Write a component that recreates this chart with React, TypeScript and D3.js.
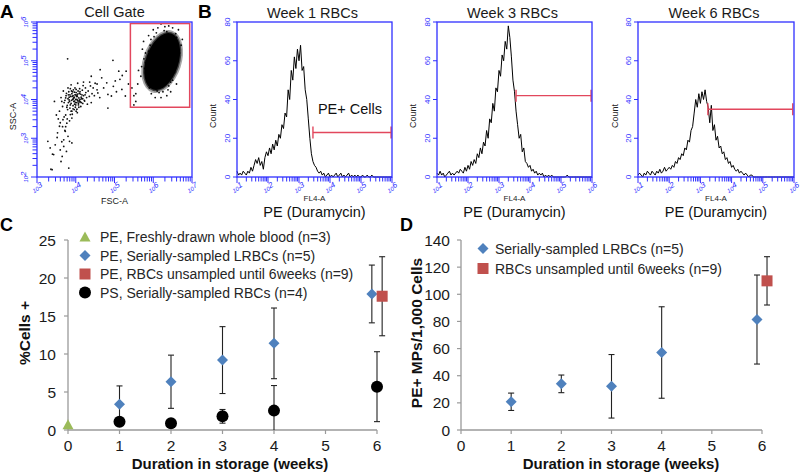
import React from "react";
import * as d3 from "d3";

const FONT = "'Liberation Sans', Arial, Helvetica, sans-serif";
const AX_BLUE = "#2f2fff";
const GATE_RED = "#e2475d";
const SERIAL_BLUE = "#4f81bd";
const UNSAMPLED_RED = "#c0504d";
const FRESH_GREEN = "#9bbb59";
const AXIS_GRAY = "#9a9a9a";

// ---------- Panel A: FSC-A vs SSC-A (log10 units) ----------
const scatterLowCluster: [number, number][] = [
  [3.62,4.05],[3.70,3.92],[3.75,4.10],[3.78,3.85],[3.80,4.02],[3.82,4.20],[3.84,3.95],[3.85,3.78],[3.87,4.08],[3.88,3.90],
  [3.90,4.15],[3.90,3.70],[3.92,4.00],[3.93,3.84],[3.94,4.25],[3.95,3.95],[3.96,4.06],[3.97,3.88],[3.98,4.12],[3.99,3.80],
  [4.00,4.00],[4.01,4.18],[4.02,3.92],[4.03,3.75],[4.04,4.08],[4.05,3.98],[4.06,4.22],[4.07,3.86],[4.08,4.04],[4.10,3.94],
  [4.12,4.14],[4.13,3.82],[4.15,4.02],[4.17,4.24],[4.18,3.90],[4.20,4.10],[4.22,3.98],[4.25,4.30],[4.28,4.05],[4.30,3.88],
  [3.72,3.98],[3.76,4.16],[3.79,3.74],[3.83,4.06],[3.86,4.28],[3.89,3.98],[3.91,3.62],[3.93,4.10],[3.96,3.74],[3.98,4.30],
  [4.00,3.86],[4.02,4.08],[4.04,3.66],[4.06,3.94],[4.09,4.16],[4.11,4.00],[4.14,3.92],[4.16,4.12],[4.19,4.36],[4.23,3.96],
  [3.66,3.82],[3.68,4.22],[3.74,3.60],[3.81,3.92],[3.85,4.12],[3.88,3.70],[3.92,4.20],[3.95,4.04],[3.97,3.96],[4.01,4.26],
  [4.03,4.00],[4.05,4.14],[4.08,3.80],[4.10,4.28],[4.12,3.94],[4.26,4.18],[4.32,4.22],[4.35,4.08],[4.38,4.35],[4.42,4.15],
  [3.58,3.70],[3.64,3.95],[3.55,3.50],[3.70,3.55],[3.60,3.40],[3.78,3.50],[3.66,3.30],[3.84,3.45],[3.72,3.20],[3.90,3.52],
  [4.45,4.30],[4.50,4.42],[4.48,4.10],[4.55,4.25],[4.40,3.92],[4.36,4.45],[4.20,4.45],[4.05,4.42],[3.88,4.38],[3.80,4.30],
  [3.94,4.02],[3.99,3.92],[4.03,4.11],[3.86,3.86],[4.09,3.98],[3.91,4.08],[4.14,4.06],[3.97,4.19],[4.07,3.90],[3.83,3.99],
  [3.74,4.04],[3.81,4.12],[3.89,4.22],[4.00,4.12],[4.11,4.20],[4.18,4.02],[3.93,3.76],[4.01,3.70],[3.77,3.80],[4.24,4.12],
];
const scatterTail: [number, number][] = [
  [3.28,2.92],[3.43,2.58],[3.47,2.83],[3.62,2.40],[3.69,2.79],[3.76,2.66],[3.82,2.23],[3.39,2.19],[3.53,3.14],[3.69,2.96],
  [3.84,2.92],[3.90,2.88],[3.65,2.53],[3.58,3.31],[3.73,3.18],[3.77,3.39],[3.67,3.48],[3.86,3.61],[3.34,2.75],[3.40,2.59],
  [3.36,2.20],[3.64,2.91],[3.50,3.60],[3.45,3.95],[3.52,3.02],[3.80,3.05],[3.60,2.70],[3.74,3.30],
];
const scatterBridge: [number, number][] = [
  [4.63,4.77],[5.11,4.73],[5.30,4.73],[4.67,4.56],[4.80,4.43],[4.97,4.34],[5.14,4.52],[5.19,4.26],[5.28,4.09],[4.92,4.09],
  [4.83,4.13],[4.57,4.17],[4.83,3.78],[4.96,5.01],[3.79,5.05],[5.45,4.30],[5.50,4.10],[5.55,3.95],[4.40,4.60],[4.72,4.30],
  [5.02,4.48],[5.36,4.40],[4.55,4.40],[5.20,4.62],[4.62,4.05],[5.05,4.20],
];
const scatterGateOutliers: [number, number][] = [
  [5.75,5.50],[5.80,5.20],[5.78,4.80],[5.85,4.50],[5.90,4.30],[5.95,4.15],[6.05,4.05],[5.70,4.85],[5.68,4.60],[5.60,4.40],
  [5.62,4.75],[6.60,5.60],[6.65,5.80],[6.50,5.85],[6.40,5.90],[6.72,5.40],[6.68,5.20],[6.55,4.70],[6.60,4.40],[6.45,4.20],
  [6.35,4.10],[6.20,4.05],[5.88,5.65],[6.00,5.80],[6.20,5.95],[6.30,5.88],[5.72,5.30],[6.75,5.55],[5.55,4.15],[5.50,3.86],
  [5.82,5.00],[5.86,4.70],[5.92,5.40],[5.96,4.45],[6.02,5.62],[6.10,4.22],[6.28,5.78],[6.42,5.65],[6.52,5.30],[6.58,5.05],
  [6.50,4.50],[6.40,4.35],[6.25,4.20],[5.84,4.90],[6.62,5.45],[6.12,5.85],[5.92,4.60],[6.55,5.50],
  [5.80,4.95],[5.88,5.25],[5.90,4.85],[5.94,5.55],[6.00,4.30],[6.08,5.72],[6.15,4.18],[6.35,5.75],[6.45,4.45],[6.50,5.05],
  [6.55,5.25],[6.48,4.80],[5.98,4.55],[6.58,5.70],[5.76,5.05],[6.38,4.25],
];
// dense gate population: centre x, centre y, radius x, radius y (log10 units), tilt (deg)
const gateClusterEllipse = [6.23, 4.98, 0.42, 0.76, 18];
// cell gate rectangle: x from, x to, y from, y to (log10 units)
const cellGateBounds = [5.41, 6.94, 3.80, 5.96];

// ---------- Panel B: FL4-A histograms (bins in log10 units from 1 in steps of 0.05) ----------
const histTitles = ["Week 1 RBCs", "Week 3 RBCs", "Week 6 RBCs"];
const histBinStart = 1;
const histBinStep = 0.05;
const week1Counts = [
  3,1,2,1,3,2,1,3,2,5, 3,6,9,7,10,6,8,4,10,13,
  11,15,12,17,14,19,16,22,20,27, 25,33,31,45,40,55,50,62,56,66,
  60,68,55,57,45,40,30,20,12,8, 6,5,3,2,3,1,2,0,1,2,
  0,1,0,1,2,0,1,2,0,1, 0,1,2,0,1,0,1,0,1,0,
  0,1,0,0,1,0,0,1,0,0, 0,0,0,0,0,0,0,0,0,0, 0,
];
const week3Counts = [
  2,1,3,1,2,0,1,2,3,1, 2,1,2,3,2,4,3,2,5,3,
  6,4,8,6,9,7,12,10,15,12, 18,16,24,20,30,28,38,34,46,44,
  55,52,63,60,70,66,78,72,62,50, 44,34,27,20,22,13,15,8,7,5,
  6,3,4,2,3,1,2,1,2,0, 1,0,1,0,1,0,0,0,0,0,
  0,0,0,0,1,0,0,0,0,0, 0,0,0,0,0,0,0,0,0,0, 0,
];
const week6Counts = [
  1,2,1,0,2,1,3,2,1,3, 2,1,3,2,4,2,3,5,3,4,
  5,4,6,5,8,7,10,9,12,11, 15,14,19,18,24,26,33,40,36,43,
  38,44,40,45,39,36,28,37,24,27, 19,21,15,16,12,13,9,10,7,8,
  5,6,4,3,4,2,3,2,1,2, 1,0,1,1,0,0,0,0,0,0,
  0,0,0,0,0,0,0,0,0,0, 0,0,0,0,0,0,0,0,0,0, 0,
];
const histCounts = [week1Counts, week3Counts, week6Counts];
const peGateStartLog = [3.45, 3.55, 3.24];
const peGateEndLog = [5.97, 5.97, 5.96];
const peGateLevel = [23, 42, 35];

// ---------- Panel C: %Cells + ----------
const cFreshX = [0];
const cFreshY = [0.7];
const cSerialX = [1, 2, 3, 4, 5.9];
const cSerialY = [3.4, 6.35, 9.2, 11.4, 17.9];
const cSerialErr = [2.4, 3.5, 4.4, 4.65, 3.8];
const cUnsampledX = [6.1];
const cUnsampledY = [17.6];
const cUnsampledErr = [5.2];
const cPSX = [1, 2, 3, 4, 6];
const cPSY = [1.1, 0.9, 1.8, 2.55, 5.7];
const cPSErr = [0.2, 0.2, 0.9, 3.3, 4.6];
const cYTicks = [0, 5, 10, 15, 20, 25];
const cLegend = [
  "PE, Freshly-drawn whole blood (n=3)",
  "PE, Serially-sampled LRBCs (n=5)",
  "PE, RBCs unsampled until 6weeks (n=9)",
  "PS, Serially-sampled RBCs (n=4)",
];

// ---------- Panel D: PE+ MPs/1,000 cells ----------
const dSerialX = [1, 2, 3, 4, 5.9];
const dSerialY = [20.8, 34, 32.2, 57.1, 81.4];
const dSerialErr = [6.4, 6.5, 23.4, 33.7, 32.8];
const dUnsampledX = [6.1];
const dUnsampledY = [109.9];
const dUnsampledErr = [17.8];
const dYTicks = [0, 20, 40, 60, 80, 100, 120, 140];
const dLegend = ["Serially-sampled LRBCs (n=5)", "RBCs unsampled until 6weeks (n=9)"];

const weekTicks = [0, 1, 2, 3, 4, 5, 6];

type Lin = d3.ScaleLinear<number, number>;

function LogLabel({ x, y, exp, vertical }: { x: number; y: number; exp: number; vertical?: boolean }) {
  return (
    <g transform={`translate(${x},${y}) rotate(${vertical ? -90 : -30})`}>
      <text textAnchor="middle" dominantBaseline="middle" fontSize={6} fill={AX_BLUE} fontFamily={FONT} fontStyle="italic">
        10<tspan fontSize={8} dy={-2}>{exp}</tspan>
      </text>
    </g>
  );
}

function LogAxisX({ scale, from, to, y }: { scale: Lin; from: number; to: number; y: number }) {
  const ticks: { v: number; major: boolean }[] = [];
  for (let d = from; d < to; d++) for (let k = 1; k <= 9; k++) ticks.push({ v: d + Math.log10(k), major: k === 1 });
  ticks.push({ v: to, major: true });
  return (
    <g>
      {ticks.map((t, i) => (
        <line key={i} x1={scale(t.v)} x2={scale(t.v)} y1={y} y2={y + (t.major ? 6 : 4.5)} stroke={AX_BLUE} strokeWidth={1} />
      ))}
      {d3.range(from, to + 1).map((d) => (
        <LogLabel key={d} x={scale(d) + 1} y={y + 12} exp={d} />
      ))}
    </g>
  );
}

function LogAxisY({ scale, from, to, x }: { scale: Lin; from: number; to: number; x: number }) {
  const ticks: { v: number; major: boolean }[] = [];
  for (let d = from; d < to; d++) for (let k = 1; k <= 9; k++) ticks.push({ v: d + Math.log10(k), major: k === 1 });
  ticks.push({ v: to, major: true });
  return (
    <g>
      {ticks.map((t, i) => (
        <line key={i} y1={scale(t.v)} y2={scale(t.v)} x1={x} x2={x - (t.major ? 6 : 4.5)} stroke={AX_BLUE} strokeWidth={1} />
      ))}
      {d3.range(from, to + 1).map((d) => (
        <LogLabel key={d} x={x - 11} y={scale(d)} exp={d} vertical />
      ))}
    </g>
  );
}

function PanelA() {
  const x = d3.scaleLinear().domain([3, 7]).range([37, 192]);
  const y = d3.scaleLinear().domain([2, 6]).range([177, 22]);
  const [cx, cy, rx, ry, tilt] = gateClusterEllipse;
  const [gx0, gx1, gy0, gy1] = cellGateBounds;
  const pts = [...scatterLowCluster, ...scatterTail, ...scatterBridge, ...scatterGateOutliers];
  const pxRx = x(cx + rx) - x(cx);
  const pxRy = y(cy) - y(cy + ry);
  const rot = `rotate(${tilt},${x(cx)},${y(cy)})`;
  return (
    <g>
      <text x={0} y={18} fontSize={19} fontWeight="bold" fontFamily={FONT}>A</text>
      <text x={(x(3) + x(7)) / 2} y={17} fontSize={14.5} textAnchor="middle" fontFamily={FONT} fill="#1a1a1a">Cell Gate</text>
      {pts.map((p, i) => (
        <circle key={i} cx={x(p[0])} cy={y(p[1])} r={0.9} fill="#111" />
      ))}
      <ellipse cx={x(cx)} cy={y(cy)} rx={pxRx + 3} ry={pxRy + 3} fill="#000" opacity={0.35} transform={rot} />
      <ellipse cx={x(cx)} cy={y(cy)} rx={pxRx + 1.3} ry={pxRy + 1.3} fill="#000" opacity={0.6} transform={rot} />
      <ellipse cx={x(cx)} cy={y(cy)} rx={pxRx} ry={pxRy} fill="#000" transform={rot} />
      <rect x={x(gx0)} y={y(gy1)} width={x(gx1) - x(gx0)} height={y(gy0) - y(gy1)} fill="none" stroke={GATE_RED} strokeWidth={1.5} />
      <rect x={x(3)} y={y(6)} width={x(7) - x(3)} height={y(2) - y(6)} fill="none" stroke={AX_BLUE} strokeWidth={1.3} />
      <LogAxisX scale={x} from={3} to={7} y={y(2)} />
      <LogAxisY scale={y} from={2} to={6} x={x(3)} />
      <text x={(x(3) + x(7)) / 2} y={204} fontSize={9} textAnchor="middle" fontFamily={FONT} fill="#222">FSC-A</text>
      <text transform={`translate(16,${(y(2) + y(6)) / 2 + 17}) rotate(-90)`} fontSize={9} textAnchor="middle" fontFamily={FONT} fill="#222">SSC-A</text>
    </g>
  );
}

function Histogram({ idx, x0, x1 }: { idx: number; x0: number; x1: number }) {
  const counts = histCounts[idx];
  const xl = d3.scaleLinear().domain([1, 6]).range([x0, x1]);
  const xs = d3.scaleLog().domain([10, 1e6]).range([x0, x1]);
  const y = d3.scaleLinear().domain([0, 80]).range([177, 22]);
  const line = d3
    .line<number>()
    .x((_, i) => xs(Math.pow(10, histBinStart + i * histBinStep)))
    .y((c) => y(c));
  const gy = y(peGateLevel[idx]);
  const gxa = xl(peGateStartLog[idx]);
  const gxb = xl(peGateEndLog[idx]);
  const mid = (x0 + x1) / 2;
  return (
    <g>
      <text x={mid - 2} y={17.5} fontSize={14.5} textAnchor="middle" fontFamily={FONT} fill="#1a1a1a">{histTitles[idx]}</text>
      <path d={line(counts) || ""} fill="none" stroke="#000" strokeWidth={1} strokeLinejoin="round" />
      <line x1={gxa} x2={gxb} y1={gy} y2={gy} stroke={GATE_RED} strokeWidth={1.4} />
      <line x1={gxa} x2={gxa} y1={gy - 6} y2={gy + 6} stroke={GATE_RED} strokeWidth={1.4} />
      <line x1={gxb} x2={gxb} y1={gy - 6} y2={gy + 6} stroke={GATE_RED} strokeWidth={1.4} />
      <rect x={x0} y={22} width={x1 - x0} height={155} fill="none" stroke={AX_BLUE} strokeWidth={1.3} />
      <LogAxisX scale={xl} from={1} to={6} y={177} />
      {[0, 20, 40, 60, 80].map((t) => (
        <g key={t}>
          <line x1={x0} x2={x0 - 4} y1={y(t)} y2={y(t)} stroke={AX_BLUE} strokeWidth={1} />
          <text transform={`translate(${x0 - 9},${y(t)}) rotate(-90)`} fontSize={8} textAnchor="middle" dominantBaseline="middle" fill={AX_BLUE} fontFamily={FONT}>{t}</text>
        </g>
      ))}
      <text x={mid} y={201} fontSize={8} textAnchor="middle" fontFamily={FONT} fill="#222">FL4-A</text>
      <text x={mid} y={217} fontSize={14.5} textAnchor="middle" fontFamily={FONT} fill="#111">PE (Duramycin)</text>
    </g>
  );
}

function PanelB() {
  return (
    <g>
      <text x={198} y={18} fontSize={19} fontWeight="bold" fontFamily={FONT}>B</text>
      <Histogram idx={0} x0={237} x1={392} />
      <Histogram idx={1} x0={437} x1={592} />
      <Histogram idx={2} x0={638} x1={794} />
      <text x={350} y={114} fontSize={14.5} textAnchor="middle" fontFamily={FONT} fill="#111">PE+ Cells</text>
      {[213, 413, 615].map((cx, i) => (
        <text key={i} transform={`translate(${cx + 3},${116}) rotate(-90)`} fontSize={9} textAnchor="middle" fontFamily={FONT} fill="#222">Count</text>
      ))}
    </g>
  );
}

function ErrBars({ xs, ys, es, x, y }: { xs: number[]; ys: number[]; es: number[]; x: Lin; y: Lin }) {
  return (
    <g>
      {xs.map((xv, i) => {
        const top = y(ys[i] + es[i]);
        const bot = y(Math.max(0, ys[i] - es[i]));
        const px = x(xv);
        return (
          <g key={i} stroke="#222" strokeWidth={1.1}>
            <line x1={px} x2={px} y1={top} y2={bot} />
            <line x1={px - 3} x2={px + 3} y1={top} y2={top} />
            {ys[i] - es[i] > 0 && <line x1={px - 3} x2={px + 3} y1={bot} y2={bot} />}
          </g>
        );
      })}
    </g>
  );
}

const Diamond = ({ cx, cy }: { cx: number; cy: number }) => (
  <path d={`M${cx},${cy - 5.5}L${cx + 5.5},${cy}L${cx},${cy + 5.5}L${cx - 5.5},${cy}Z`} fill={SERIAL_BLUE} />
);
const Square = ({ cx, cy }: { cx: number; cy: number }) => (
  <rect x={cx - 5.5} y={cy - 5.5} width={11} height={11} fill={UNSAMPLED_RED} />
);
const Triangle = ({ cx, cy }: { cx: number; cy: number }) => (
  <path d={`M${cx},${cy - 5.5}L${cx + 5.5},${cy + 4.5}L${cx - 5.5},${cy + 4.5}Z`} fill={FRESH_GREEN} />
);
const Dot = ({ cx, cy }: { cx: number; cy: number }) => <circle cx={cx} cy={cy} r={6} fill="#000" />;

function WeeksAxis({ x, y, ticks, yTitle, titleX, titleY, letter, letterX, yLabelEnd }: {
  x: Lin; y: Lin; ticks: number[]; yTitle: string; titleX: number; titleY: number; letter: string; letterX: number; yLabelEnd: number;
}) {
  const [y0] = y.range();
  const top = y(ticks[ticks.length - 1]);
  return (
    <g fontFamily={FONT}>
      <text x={letterX} y={231} fontSize={18} fontWeight="bold">{letter}</text>
      <line x1={x(0)} x2={x(0)} y1={top} y2={y0} stroke={AXIS_GRAY} strokeWidth={1.3} />
      <line x1={x(0)} x2={x(6)} y1={y0} y2={y0} stroke={AXIS_GRAY} strokeWidth={1.3} />
      {ticks.map((t) => (
        <g key={t}>
          <line x1={x(0) - 4} x2={x(0)} y1={y(t)} y2={y(t)} stroke={AXIS_GRAY} strokeWidth={1.2} />
          <text x={yLabelEnd} y={y(t) + 5.5} fontSize={15.5} textAnchor="end" fill="#1a1a1a">{t}</text>
        </g>
      ))}
      {weekTicks.map((w) => (
        <g key={w}>
          <line x1={x(w)} x2={x(w)} y1={y0} y2={y0 + 4} stroke={AXIS_GRAY} strokeWidth={1.2} />
          <text x={x(w)} y={451} fontSize={15.5} textAnchor="middle" fill="#1a1a1a">{w}</text>
        </g>
      ))}
      <text x={titleX} y={469} fontSize={15} fontWeight="bold" textAnchor="middle" fill="#111">Duration in storage (weeks)</text>
      <text transform={`translate(${titleY},333) rotate(-90)`} fontSize={15.5} fontWeight="bold" textAnchor="middle" fill="#111">{yTitle}</text>
    </g>
  );
}

function PanelC() {
  const x = d3.scaleLinear().domain([0, 6]).range([68, 377]);
  const y = d3.scaleLinear().domain([0, 25]).range([430, 240]);
  const legendRows = [237, 255.5, 274, 292.5];
  const markers = [Triangle, Diamond, Square, Dot];
  return (
    <g>
      <WeeksAxis x={x} y={y} ticks={cYTicks} yTitle="%Cells +" titleX={230} titleY={30} letter="C" letterX={0} yLabelEnd={56} />
      <ErrBars xs={cSerialX} ys={cSerialY} es={cSerialErr} x={x} y={y} />
      <ErrBars xs={cUnsampledX} ys={cUnsampledY} es={cUnsampledErr} x={x} y={y} />
      <ErrBars xs={cPSX} ys={cPSY} es={cPSErr} x={x} y={y} />
      {cSerialX.map((v, i) => <Diamond key={i} cx={x(v)} cy={y(cSerialY[i])} />)}
      {cUnsampledX.map((v, i) => <Square key={i} cx={x(v)} cy={y(cUnsampledY[i])} />)}
      {cPSX.map((v, i) => <Dot key={i} cx={x(v)} cy={y(cPSY[i])} />)}
      {cFreshX.map((v, i) => <Triangle key={i} cx={x(v)} cy={y(cFreshY[i])} />)}
      {cLegend.map((t, i) => {
        const M = markers[i];
        return (
          <g key={i}>
            <M cx={85} cy={legendRows[i]} />
            <text x={100} y={legendRows[i] + 5} fontSize={14} fontFamily={FONT} fill="#262626">{t}</text>
          </g>
        );
      })}
    </g>
  );
}

function PanelD() {
  const x = d3.scaleLinear().domain([0, 6]).range([461, 762]);
  const y = d3.scaleLinear().domain([0, 140]).range([430, 240]);
  const legendRows = [248.5, 268.5];
  const markers = [Diamond, Square];
  return (
    <g>
      <WeeksAxis x={x} y={y} ticks={dYTicks} yTitle="PE+ MPs/1,000 Cells" titleX={621} titleY={422} letter="D" letterX={400} yLabelEnd={450} />
      <ErrBars xs={dSerialX} ys={dSerialY} es={dSerialErr} x={x} y={y} />
      <ErrBars xs={dUnsampledX} ys={dUnsampledY} es={dUnsampledErr} x={x} y={y} />
      {dSerialX.map((v, i) => <Diamond key={i} cx={x(v)} cy={y(dSerialY[i])} />)}
      {dUnsampledX.map((v, i) => <Square key={i} cx={x(v)} cy={y(dUnsampledY[i])} />)}
      {dLegend.map((t, i) => {
        const M = markers[i];
        return (
          <g key={i}>
            <M cx={483} cy={legendRows[i]} />
            <text x={495} y={legendRows[i] + 5} fontSize={14} fontFamily={FONT} fill="#262626">{t}</text>
          </g>
        );
      })}
    </g>
  );
}

export default function App() {
  return (
    <svg width={800} height={476} viewBox="0 0 800 476" style={{ position: "absolute", left: 0, top: 0, background: "#fff" }} fontFamily={FONT}>
      <rect width={800} height={476} fill="#fff" />
      <PanelA />
      <PanelB />
      <PanelC />
      <PanelD />
    </svg>
  );
}
